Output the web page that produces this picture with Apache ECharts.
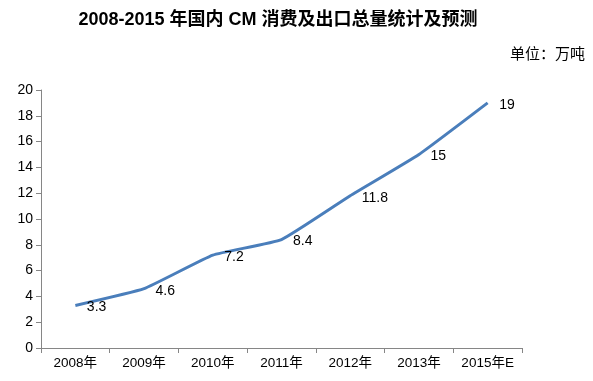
<!DOCTYPE html>
<html><head><meta charset="utf-8">
<script src="https://cdn.jsdelivr.net/npm/echarts@6/dist/echarts.min.js"></script>
<style>html,body{margin:0;padding:0;background:#fff}#c{width:593px;height:381px}</style>
</head><body><div id="c"></div>
<script>
const categories = ['2008年','2009年','2010年','2011年','2012年','2013年','2015年E'];
const values = [3.3, 4.6, 7.2, 8.4, 11.8, 15, 19];
const yTicks = [0,2,4,6,8,10,12,14,16,18,20];
const titleText = '2008-2015 年国内 CM 消费及出口总量统计及预测';
const unitText = '单位：万吨';

const font = "'Liberation Sans','Noto Sans CJK SC',sans-serif";
const chart = echarts.init(document.getElementById('c'));
chart.setOption({
  animation: false,
  backgroundColor: '#fff',
  title: [
    {text: titleText, left: 273, textAlign: 'center', top: 6,
     textStyle: {fontSize: 18, fontWeight: 'bold', color: '#000', fontFamily: font}},
    {text: unitText, right: 3, top: 42,
     textStyle: {fontSize: 15, fontWeight: 'normal', color: '#000', fontFamily: font}}
  ],
  grid: {left: 41, right: 71, top: 90, bottom: 33},
  xAxis: {
    type: 'category', data: categories, boundaryGap: true,
    axisLine: {lineStyle: {color: '#868686'}},
    axisTick: {show: true, length: 5, interval: 0, lineStyle: {color: '#868686'}},
    axisLabel: {color: '#000', fontSize: 13.5, fontFamily: font, margin: 9, interval: 0}
  },
  yAxis: {
    type: 'value', min: yTicks[0], max: yTicks[yTicks.length-1], interval: 2,
    axisLine: {show: true, lineStyle: {color: '#868686'}},
    axisTick: {show: true, length: 5, lineStyle: {color: '#868686'}},
    splitLine: {show: false},
    axisLabel: {color: '#000', fontSize: 14, fontFamily: font, margin: 8}
  },
  series: [{
    type: 'line', data: values, smooth: 0.12, symbol: 'circle', symbolSize: 1, showSymbol: true,
    itemStyle: {color: 'rgba(74,126,187,0)', borderWidth: 0},
    lineStyle: {color: '#4A7EBB', width: 3},
    label: {show: true, position: 'right', distance: 11, offset: [0, 2], color: '#000', fontSize: 14, fontFamily: font}
  }]
});
</script></body></html>
